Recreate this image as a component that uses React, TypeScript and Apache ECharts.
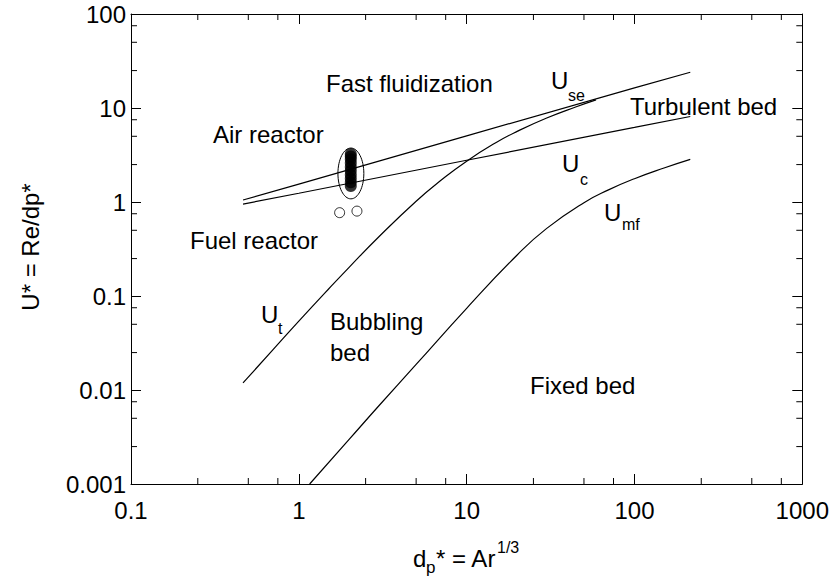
import React, { useEffect, useRef } from "react";
import * as echarts from "echarts";

// Axis ranges / ticks
const X_MIN = 0.1;
const X_MAX = 1000;
const Y_MIN = 0.001;
const Y_MAX = 100;
const X_DECADES = [0.1, 1, 10, 100];
const Y_DECADES = [0.001, 0.01, 0.1, 1, 10];
const MINOR_STEPS = [2.5, 5, 7.5];

// U_t (terminal velocity)
const utX = [0.465, 0.7, 1, 1.5, 2, 3, 5, 7, 10, 15, 20, 30, 45, 59];
const utY = [0.0119, 0.0267, 0.054, 0.118, 0.203, 0.427, 1.02, 1.69, 2.72, 4.3, 5.64, 7.82, 10.3, 12.2];

// U_mf (minimum fluidization)
const umfX = [1.16, 2, 3, 5, 10, 20, 30, 50, 70, 100, 150, 215];
const umfY = [0.001, 0.003, 0.0068, 0.0187, 0.074, 0.273, 0.524, 0.984, 1.345, 1.77, 2.3, 2.84];

// U_c (onset of turbulent)
const ucX = [0.465, 1, 10, 100, 215];
const ucY = [0.95, 1.24, 2.78, 6.21, 8.12];

// U_se (significant entrainment)
const useX = [0.465, 1, 10, 100, 215];
const useY = [1.05, 1.55, 5.05, 16.4, 24];

// Air reactor points
const airX = [2.04, 2.04, 2.04, 2.04, 2.04, 2.04, 2.04, 2.04, 2.04, 2.04];
const airY = [1.48, 1.62, 1.78, 1.95, 2.15, 2.35, 2.6, 2.85, 3.05, 3.24];

// Fuel reactor points
const fuelX = [1.75, 2.22];
const fuelY = [0.77, 0.8];

// Ellipse around air reactor points (data extents)
const ellipseX = [1.71, 2.44];
const ellipseY = [1.08, 3.75];

const FONT = "'Liberation Sans', Arial, Helvetica, sans-serif";

const zip = (xs: number[], ys: number[]) => xs.map((x, i) => [x, ys[i]]);

const fmt = (v: number) => String(parseFloat(Number(v).toPrecision(6)));

export default function App() {
  const ref = useRef<HTMLDivElement>(null);

  useEffect(() => {
    if (!ref.current) return;
    const chart = echarts.init(ref.current, undefined, { renderer: "svg" });

    const xMinor: number[][] = [];
    X_DECADES.forEach((d) => MINOR_STEPS.forEach((s) => xMinor.push([d * s, Y_MIN])));
    const yMinor: number[][] = [];
    Y_DECADES.forEach((d) => MINOR_STEPS.forEach((s) => yMinor.push([X_MIN, d * s])));

    const lineStyle = { color: "#000", width: 1.2 };
    const axisCommon = {
      type: "log" as const,
      logBase: 10,
      axisLine: { show: true, lineStyle: { color: "#000", width: 1 } },
      axisTick: { show: true, inside: true, length: 10, lineStyle: { color: "#000", width: 1 } },
      splitLine: { show: false },
      minorTick: { show: false },
    };

    const textEl = (text: string, x: number, y: number, size: number) => ({
      type: "text",
      x,
      y,
      style: {
        text,
        fill: "#000",
        font: `${size}px ${FONT}`,
        textAlign: "left",
        textVerticalAlign: "middle",
      },
    });

    chart.setOption({
      animation: false,
      backgroundColor: "#fff",
      grid: { left: 131, right: 29, top: 14, bottom: 99, containLabel: false },
      xAxis: [
        {
          ...axisCommon,
          min: X_MIN,
          max: X_MAX,
          position: "bottom",
          axisLabel: {
            show: true,
            color: "#000",
            fontSize: 24,
            fontFamily: FONT,
            margin: 14,
            formatter: fmt,
          },
        },
        {
          ...axisCommon,
          min: X_MIN,
          max: X_MAX,
          position: "top",
          axisLabel: { show: false },
        },
      ],
      yAxis: [
        {
          ...axisCommon,
          min: Y_MIN,
          max: Y_MAX,
          position: "left",
          axisLabel: {
            show: true,
            color: "#000",
            fontSize: 24,
            fontFamily: FONT,
            margin: 5,
            formatter: fmt,
          },
        },
        {
          ...axisCommon,
          min: Y_MIN,
          max: Y_MAX,
          position: "right",
          axisLabel: { show: false },
        },
      ],
      series: [
        { type: "line", name: "Ut", data: zip(utX, utY), symbol: "none", smooth: true, lineStyle },
        { type: "line", name: "Umf", data: zip(umfX, umfY), symbol: "none", smooth: true, lineStyle },
        { type: "line", name: "Uc", data: zip(ucX, ucY), symbol: "none", lineStyle },
        { type: "line", name: "Use", data: zip(useX, useY), symbol: "none", lineStyle },
        {
          type: "scatter",
          name: "Air reactor",
          data: zip(airX, airY),
          symbol: "circle",
          symbolSize: 12,
          itemStyle: { color: "#000" },
        },
        {
          type: "scatter",
          name: "Fuel reactor",
          data: zip(fuelX, fuelY),
          symbol: "circle",
          symbolSize: 10,
          itemStyle: { color: "#fff", borderColor: "#000", borderWidth: 1 },
        },
        {
          type: "custom",
          name: "ellipse",
          data: [[ellipseX[0], ellipseY[0], ellipseX[1], ellipseY[1]]],
          encode: { x: [0, 2], y: [1, 3] },
          renderItem: (params: any, api: any) => {
            const p0 = api.coord([api.value(0), api.value(1)]);
            const p1 = api.coord([api.value(2), api.value(3)]);
            return {
              type: "ellipse",
              shape: {
                cx: (p0[0] + p1[0]) / 2,
                cy: (p0[1] + p1[1]) / 2,
                rx: Math.abs(p1[0] - p0[0]) / 2,
                ry: Math.abs(p1[1] - p0[1]) / 2,
              },
              style: { fill: "none", stroke: "#000", lineWidth: 1 },
            };
          },
          z: 5,
        },
        {
          type: "custom",
          name: "xMinor",
          data: xMinor,
          encode: { x: 0, y: 1 },
          renderItem: (params: any, api: any) => {
            const v = api.value(0);
            const pb = api.coord([v, Y_MIN]);
            const pt = api.coord([v, Y_MAX]);
            return {
              type: "group",
              children: [
                { type: "line", shape: { x1: pb[0], y1: pb[1], x2: pb[0], y2: pb[1] - 6 }, style: { stroke: "#000", lineWidth: 1 } },
                { type: "line", shape: { x1: pt[0], y1: pt[1], x2: pt[0], y2: pt[1] + 6 }, style: { stroke: "#000", lineWidth: 1 } },
              ],
            };
          },
        },
        {
          type: "custom",
          name: "yMinor",
          data: yMinor,
          encode: { x: 0, y: 1 },
          renderItem: (params: any, api: any) => {
            const v = api.value(1);
            const pl = api.coord([X_MIN, v]);
            const pr = api.coord([X_MAX, v]);
            return {
              type: "group",
              children: [
                { type: "line", shape: { x1: pl[0], y1: pl[1], x2: pl[0] + 6, y2: pl[1] }, style: { stroke: "#000", lineWidth: 1 } },
                { type: "line", shape: { x1: pr[0], y1: pr[1], x2: pr[0] - 6, y2: pr[1] }, style: { stroke: "#000", lineWidth: 1 } },
              ],
            };
          },
        },
      ],
      graphic: [
        textEl("Fast fluidization", 326, 83, 24),
        textEl("Air reactor", 213, 134, 24),
        textEl("Fuel reactor", 190, 240, 24),
        textEl("Turbulent bed", 630, 106, 24),
        textEl("Bubbling", 330, 321, 24),
        textEl("bed", 330, 352, 24),
        textEl("Fixed bed", 530, 385, 24),
        textEl("U", 551, 80, 24),
        textEl("se", 568, 95, 16),
        textEl("U", 562, 163, 24),
        textEl("c", 580, 179, 16),
        textEl("U", 604, 212, 24),
        textEl("mf", 622, 224, 16),
        textEl("U", 261, 314, 24),
        textEl("t", 278, 328, 16),
        textEl("d", 413, 558, 24),
        textEl("p", 426, 567, 17),
        textEl("* = Ar", 436, 558, 24),
        textEl("1/3", 497, 547, 16),
        {
          type: "text",
          x: 30,
          y: 247,
          rotation: Math.PI / 2,
          style: {
            text: "U* = Re/dp*",
            fill: "#000",
            font: `24px ${FONT}`,
            textAlign: "center",
            textVerticalAlign: "middle",
          },
        },
      ],
    });

    return () => chart.dispose();
  }, []);

  return (
    <div
      ref={ref}
      style={{ position: "absolute", left: 0, top: 0, width: 832, height: 583 }}
    />
  );
}
